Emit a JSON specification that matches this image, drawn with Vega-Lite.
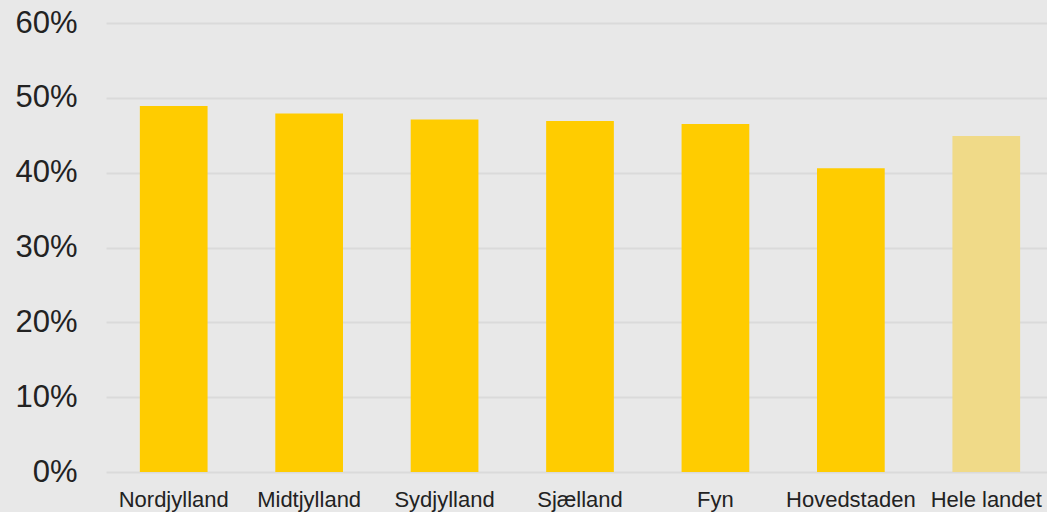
{
  "$schema": "https://vega.github.io/schema/vega-lite/v6.json",
  "width": 948,
  "height": 449,
  "autosize": {"type": "none"},
  "padding": {"left": 106, "top": 23, "right": 0, "bottom": 40},
  "background": "#e8e8e8",
  "config": {
    "view": {"stroke": null},
    "font": "Liberation Sans",
    "axis": {"labelFont": "Liberation Sans", "labelColor": "#222222", "domain": false, "ticks": false}
  },
  "data": {
    "values": [
      {"region": "Nordjylland", "share": 0.489, "group": "region"},
      {"region": "Midtjylland", "share": 0.479, "group": "region"},
      {"region": "Sydjylland", "share": 0.471, "group": "region"},
      {"region": "Sjælland", "share": 0.469, "group": "region"},
      {"region": "Fyn", "share": 0.465, "group": "region"},
      {"region": "Hovedstaden", "share": 0.406, "group": "region"},
      {"region": "Hele landet", "share": 0.449, "group": "total"}
    ]
  },
  "mark": {"type": "bar"},
  "encoding": {
    "x": {
      "field": "region",
      "type": "nominal",
      "sort": null,
      "scale": {"paddingInner": 0.5, "paddingOuter": 0.25},
      "axis": {"title": null, "labelAngle": 0, "labelFontSize": 22, "labelPadding": 17, "grid": false}
    },
    "y": {
      "field": "share",
      "type": "quantitative",
      "scale": {"domain": [0, 0.6], "nice": false},
      "axis": {
        "title": null,
        "format": ".0%",
        "values": [0, 0.1, 0.2, 0.3, 0.4, 0.5, 0.6],
        "labelFontSize": 31,
        "labelPadding": 29,
        "grid": true,
        "gridColor": "#dadada",
        "gridWidth": 2
      }
    },
    "color": {
      "field": "group",
      "type": "nominal",
      "scale": {"domain": ["region", "total"], "range": ["#ffcc00", "#f0da88"]},
      "legend": null
    }
  }
}
